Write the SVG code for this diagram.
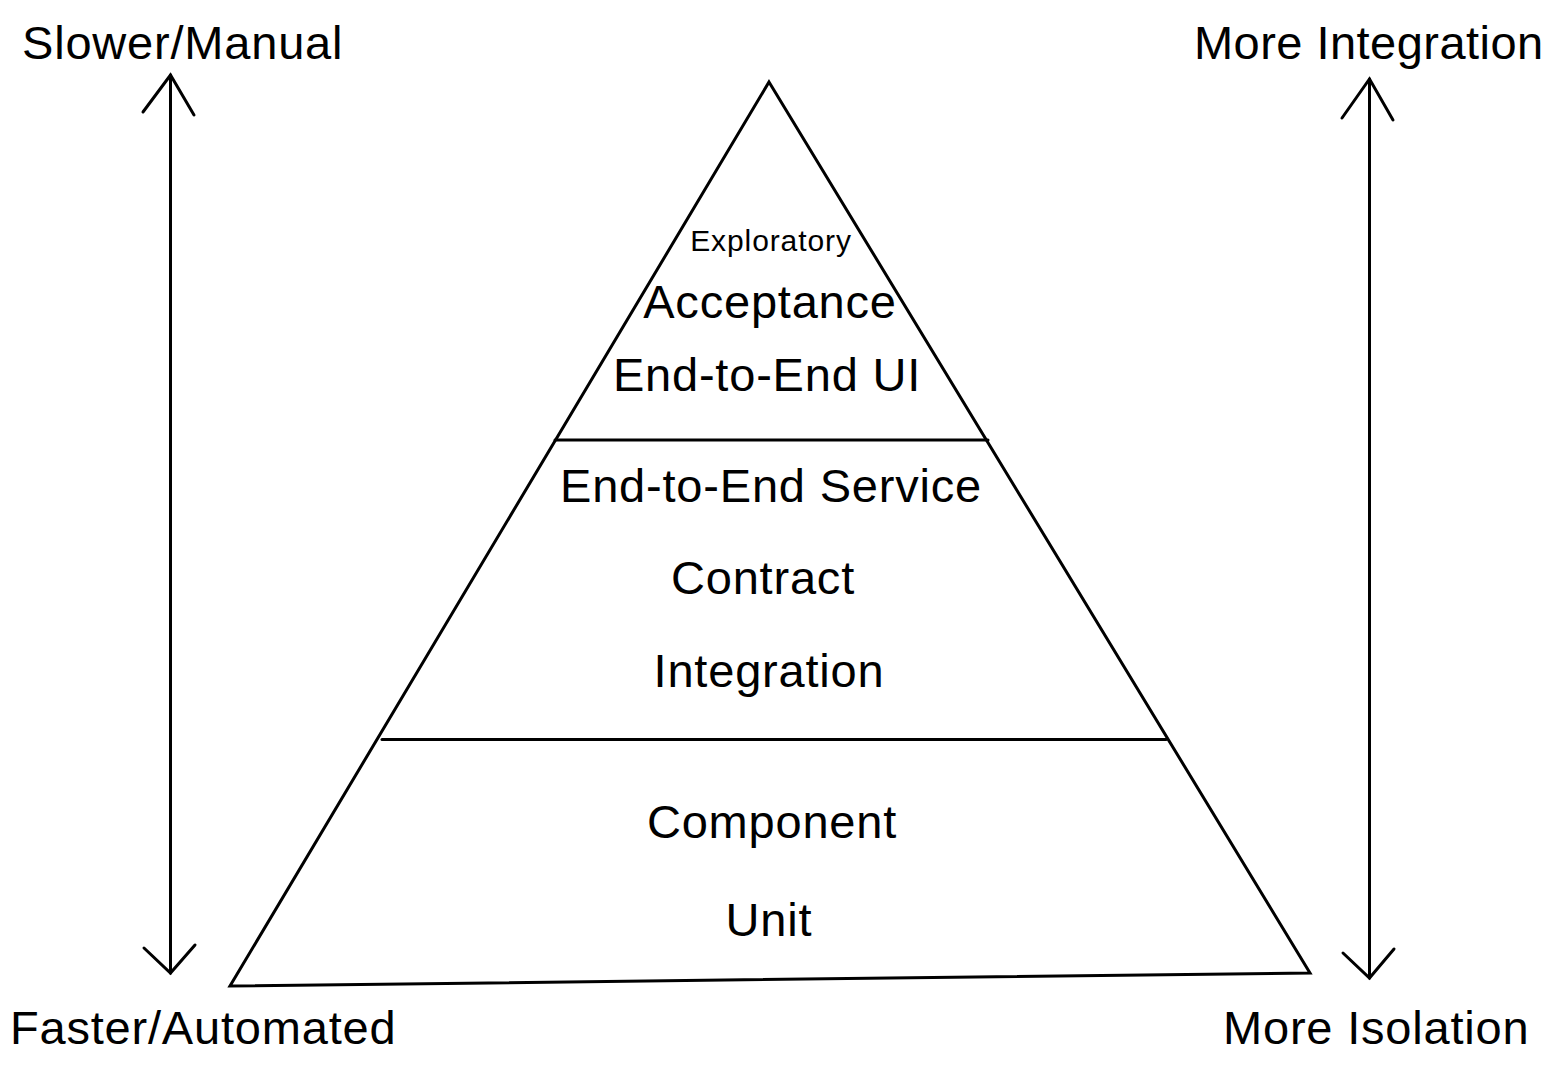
<svg xmlns="http://www.w3.org/2000/svg" width="1562" height="1069" viewBox="0 0 1562 1069">
<style>
  .ln { stroke: #000; stroke-width: 3; fill: none; stroke-linecap: round; stroke-linejoin: miter; }
  .t { font-family: "Liberation Sans", Arial, sans-serif; font-size: 47px; letter-spacing: 0.8px; fill: #000; }
  .c { text-anchor: middle; }
  .s { font-size: 30px; letter-spacing: 0.9px; }
</style>
<rect width="1562" height="1069" fill="#fff"/>
<g id="connectors">
  <g id="left-arrow">
    <line class="ln" x1="170.5" y1="75" x2="170.5" y2="973"/>
    <polyline class="ln" points="143,112 170.5,75 194,115"/>
    <polyline class="ln" points="144,948 170.5,973 195,945"/>
  </g>
  <g id="right-arrow">
    <line class="ln" x1="1369.5" y1="79" x2="1369.5" y2="978"/>
    <polyline class="ln" points="1342,118 1369.5,79 1393,120"/>
    <polyline class="ln" points="1343,953 1369.5,978 1394,949"/>
  </g>
</g>
<g id="pyramid">
  <polygon class="ln" points="769,82 1310,973 230,986"/>
  <line class="ln" x1="555" y1="440" x2="988" y2="440"/>
  <line class="ln" x1="382" y1="739.5" x2="1166" y2="739.5"/>
</g>
<g id="top-layer">
  <text class="t c s" x="771" y="251">Exploratory</text>
  <text class="t c" x="770" y="318">Acceptance</text>
  <text class="t c" x="767" y="391">End-to-End UI</text>
</g>
<g id="middle-layer">
  <text class="t c" x="771" y="502">End-to-End Service</text>
  <text class="t c" x="763" y="594">Contract</text>
  <text class="t c" x="769" y="687">Integration</text>
</g>
<g id="bottom-layer">
  <text class="t c" x="772" y="838">Component</text>
  <text class="t c" x="769" y="936">Unit</text>
</g>
<g id="labels">
  <text class="t" x="22" y="59">Slower/Manual</text>
  <text class="t" x="1194" y="59" textLength="350">More Integration</text>
  <text class="t" x="10" y="1044">Faster/Automated</text>
  <text class="t" x="1223" y="1044">More Isolation</text>
</g>
</svg>
